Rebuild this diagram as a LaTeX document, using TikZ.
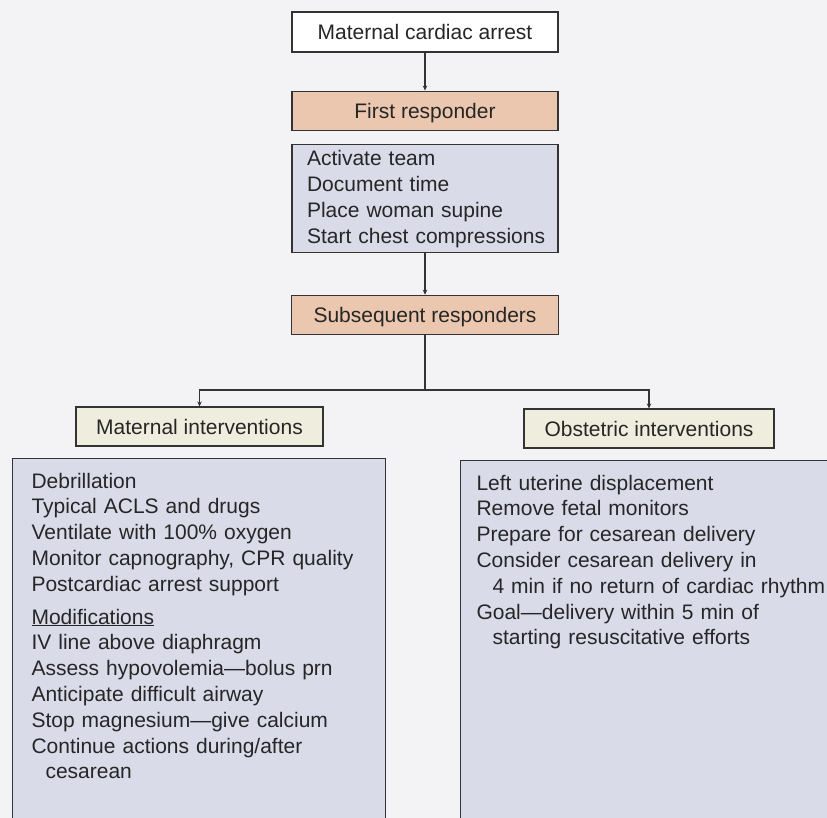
\documentclass[tikz,border=0pt]{standalone}
\usepackage{fontspec}
\setmainfont{Liberation Sans}
\usepackage{xcolor}
\usepackage{tikz}
\usetikzlibrary{arrows.meta, positioning}

\definecolor{pagegray}{RGB}{243,243,246}
\definecolor{peach}{RGB}{234,199,174}
\definecolor{cream}{RGB}{239,237,222}
\definecolor{lavender}{RGB}{217,219,233}

\begin{document}
\begin{tikzpicture}[x=1bp, y=-1bp,
    headbox/.style={rectangle, draw=black!80, line width=1.1bp, minimum width=266bp,
                    minimum height=39bp, text height=15bp, text depth=0bp, text=black!85,
                    font=\fontsize{21bp}{25.8bp}\selectfont},
    listbox/.style={rectangle, draw=black!80, line width=1.1bp, fill=lavender, align=left,
                    text height=15bp, text=black!85, font=\fontsize{21bp}{25.8bp}\selectfont},
    flow/.style={-{Stealth[length=5bp, width=4.5bp]}, draw=black!80, line width=1.1bp}
]

\useasboundingbox (0,0) rectangle (827,818);
\clip (0,0) rectangle (827,818);
\fill[pagegray] (0,0) rectangle (827,818);

\node[headbox, fill=white, minimum height=40bp] (arrest) at (425,32) {Maternal cardiac arrest};

\node[headbox, fill=peach] (first) [below=38bp of arrest] {First responder};

\node[listbox, text width=236bp, inner xsep=15bp, inner ysep=6.5bp, text depth=80bp] (actions) [below=13bp of first] {
    Activate team \\
    Document time \\
    Place woman supine \\
    \mbox{Start chest compressions}
};

\node[headbox, fill=peach, minimum width=267bp] (subsequent) [below=42bp of actions] {Subsequent responders};

\node[headbox, fill=cream, minimum width=247bp] (maternal) at (199.5,426.5) {Maternal interventions};
\node[headbox, fill=cream, minimum width=250bp] (obstetric) at (649,428.5) {Obstetric interventions};

\node[listbox, anchor=north west, text width=335bp, inner xsep=19bp, inner ysep=14.5bp, text depth=345bp] (matlist) at (12,458) {
    Debrillation \\
    Typical ACLS and drugs \\
    Ventilate with 100\% oxygen \\
    Monitor capnography, CPR quality \\
    Postcardiac arrest support \\[7bp]
    \underline{Modifications} \\
    IV line above diaphragm \\
    Assess hypovolemia---bolus prn \\
    Anticipate difficult airway \\
    Stop magnesium---give calcium \\
    Continue actions during/after \\
    \hspace*{14bp}cesarean
};

\node[listbox, anchor=north west, text width=400bp, inner xsep=16bp, inner ysep=14.5bp, text depth=345bp] (obslist) at (460,460) {
    Left uterine displacement \\
    Remove fetal monitors \\
    Prepare for cesarean delivery \\
    Consider cesarean delivery in \\
    \hspace*{16bp}4 min if no return of cardiac rhythm \\
    Goal---delivery within 5 min of \\
    \hspace*{16bp}starting resuscitative efforts
};

\coordinate (split) at (425,390);
\draw[flow] (arrest) -- (first);
\draw[flow] (actions) -- (subsequent);
\draw[draw=black!80, line width=1.1bp] (subsequent) -- (split);
\draw[flow] (split) -| (maternal);
\draw[flow] (split) -| (obstetric);

\end{tikzpicture}
\end{document}
